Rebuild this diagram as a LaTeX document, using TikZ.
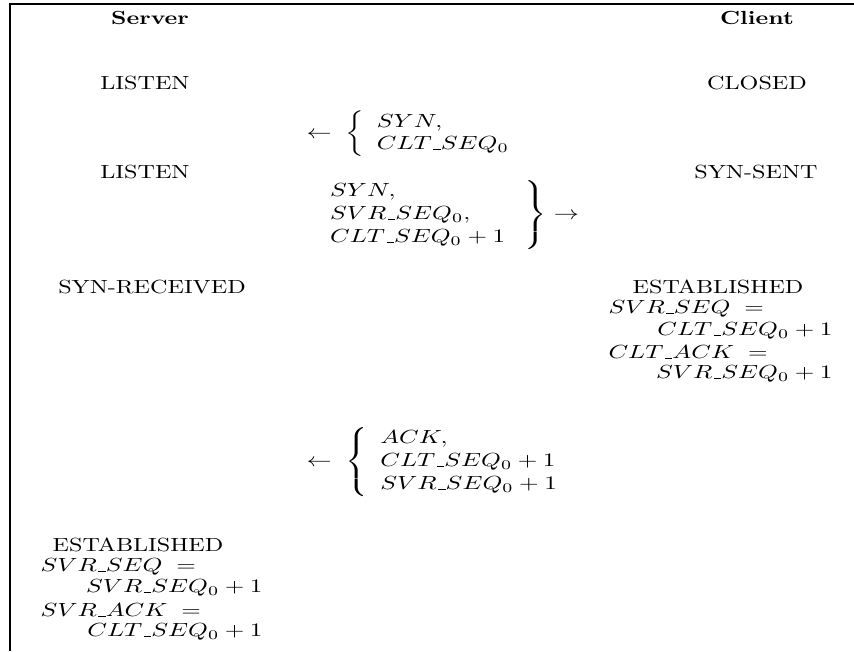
\documentclass[tikz,border=0pt]{standalone}
\usepackage{amssymb}
\usepackage{tikz}
\usetikzlibrary{positioning}
\newcommand{\us}{\kern.06em\vbox{\hrule width.3em}}
\tikzstyle{state} = [inner sep=0pt, xscale=1.27, text centered]
\tikzstyle{lbl} = [inner sep=0pt, xscale=1.27, font=\bfseries]
\tikzstyle{msg} = [inner sep=0pt, xscale=1.32, anchor=west]
\tikzstyle{vleft} = [inner sep=0pt, xscale=1.32, anchor=west]
\tikzstyle{vright} = [inner sep=0pt, xscale=1.32, anchor=east]
\tikzstyle{frame} = [draw, line width=1.4pt]

\begin{document}
\begin{tikzpicture}[x=0.526pt, y=-0.526pt]
    \useasboundingbox (0,0) rectangle (854,651);
    \path[frame] (854,4) -- (10,4) -- (10,651);

    % column heads
    \node[lbl](server) at (150,18) {Server};
    \node[lbl](client) at (757,18) {Client};

    % states
    \node[state](s1) at (145,83) {LISTEN};
    \node[state](c1) at (757,83) {CLOSED};
    \node[state](s2) at (145,172) {LISTEN};
    \node[state](c2) at (756,172) {SYN-SENT};
    \node[state](s3) at (152,287) {SYN-RECEIVED};
    \node[state](c3) at (718,287) {ESTABLISHED};

    % segments
    \node[msg](m1) at (306,134) {$\leftarrow\;\left\{\begin{array}{l}
        SYN, \\ CLT\us SEQ_0 \end{array}\right.$};
    \node[msg](m2) at (314,215) {$\left.\begin{array}{l}
        SYN, \\ SVR\us SEQ_0, \\ CLT\us SEQ_0+1 \end{array}\;\right\} \rightarrow$};
    \node[msg](m3) at (306,462) {$\leftarrow\;\left\{\begin{array}{l}
        ACK, \\ CLT\us SEQ_0+1 \\ SVR\us SEQ_0+1 \end{array}\right.$};

    % client variables
    \node[vleft](cseq) at (608,309) {$SVR\us SEQ\;=$};
    \node[vright](cseqv) at (833,331) {$CLT\us SEQ_0+1$};
    \node[vleft](cack) at (608,352) {$CLT\us ACK\;=$};
    \node[vright](cackv) at (833,374) {$SVR\us SEQ_0+1$};

    % server variables
    \node[state](s4) at (138,545) {ESTABLISHED};
    \node[vleft](sseq) at (40,567) {$SVR\us SEQ\;=$};
    \node[vright](sseqv) at (263,588) {$SVR\us SEQ_0+1$};
    \node[vleft](sack) at (40,610) {$SVR\us ACK\;=$};
    \node[vright](sackv) at (263,632) {$CLT\us SEQ_0+1$};
\end{tikzpicture}
\end{document}
